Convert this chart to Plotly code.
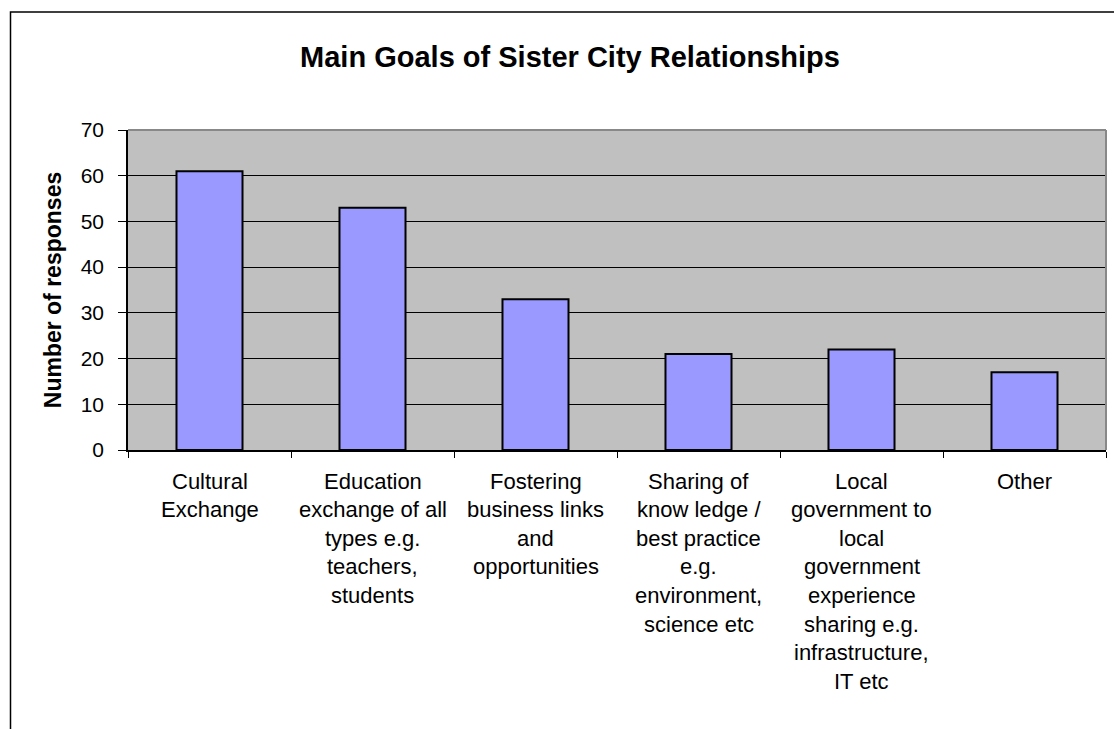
import plotly.graph_objects as go

# Survey results: main goals of sister city relationships
categories = [
    ["Cultural", "Exchange"],
    ["Education", "exchange of all", "types e.g.", "teachers,", "students"],
    ["Fostering", "business links", "and", "opportunities"],
    ["Sharing of", "know ledge /", "best practice", "e.g.", "environment,", "science etc"],
    ["Local", "government to", "local", "government", "experience", "sharing e.g.",
     "infrastructure,", "IT etc"],
    ["Other"],
]
responses = [61, 53, 33, 21, 22, 17]
y_ticks = [0, 10, 20, 30, 40, 50, 60, 70]

W, H = 1114, 729
L, R, T, B = 128, 8, 130, 279
FONT = "Liberation Sans, Arial, sans-serif"

x_pos = list(range(len(responses)))

fig = go.Figure(
    go.Bar(
        x=x_pos,
        y=responses,
        width=0.405,
        marker=dict(color="#9999FF", line=dict(color="black", width=2)),
        hoverinfo="y",
    )
)

# Multi-line category labels below the axis
annotations = []
for i, lines in enumerate(categories):
    for j, line in enumerate(lines):
        annotations.append(dict(
            x=i, xref="x", y=0, yref="paper",
            text=line, showarrow=False,
            xanchor="center", yanchor="middle",
            yshift=-(31 + 28.6 * j),
            font=dict(family=FONT, size=22, color="black"),
        ))

pw = W - L - R
ph = H - T - B
shapes = [
    # chart-area frame
    dict(type="rect", xref="paper", yref="paper",
         x0=(10.5 - L) / pw, x1=(W + 20 - L) / pw,
         y0=-(H + 20 - ph - T) / ph, y1=(ph + T - 12) / ph,
         line=dict(color="black", width=1.5), fillcolor="rgba(0,0,0,0)", layer="below"),
    # plot-area frame, top and right edges
    dict(type="line", xref="paper", yref="paper", x0=0, x1=1, y0=1, y1=1,
         line=dict(color="#888888", width=2)),
    dict(type="line", xref="paper", yref="paper", x0=1, x1=1, y0=0, y1=1,
         line=dict(color="#888888", width=2)),
]

fig.update_layout(
    width=W, height=H,
    margin=dict(l=L, r=R, t=T, b=B, autoexpand=False),
    paper_bgcolor="white",
    plot_bgcolor="#C0C0C0",
    showlegend=False,
    title=dict(
        text="<b>Main Goals of Sister City Relationships</b>",
        x=570 / W, xanchor="center", xref="container",
        y=1 - 57 / H, yanchor="middle", yref="container",
        font=dict(family=FONT, size=29, color="black"),
    ),
    xaxis=dict(
        range=[-0.5, len(responses) - 0.5],
        tickmode="array",
        tickvals=[k - 0.5 for k in range(len(responses) + 1)],
        showticklabels=False,
        ticks="outside", ticklen=6, tickcolor="black", tickwidth=1,
        showline=True, linecolor="black", linewidth=1.5,
        showgrid=False, zeroline=False, fixedrange=True,
    ),
    yaxis=dict(
        range=[0, 70],
        tickmode="array", tickvals=y_ticks,
        ticks="outside", ticklen=8, tickcolor="black", tickwidth=1,
        ticklabelstandoff=10,
        tickfont=dict(family=FONT, size=21, color="black"),
        showline=True, linecolor="black", linewidth=1.5,
        showgrid=True, gridcolor="black", gridwidth=1,
        zeroline=False, fixedrange=True,
        title=dict(text="<b>Number of responses</b>", standoff=13,
                   font=dict(family=FONT, size=23, color="black")),
    ),
    annotations=annotations,
    shapes=shapes,
    bargap=0.595,
)

fig.write_html("out.html")
